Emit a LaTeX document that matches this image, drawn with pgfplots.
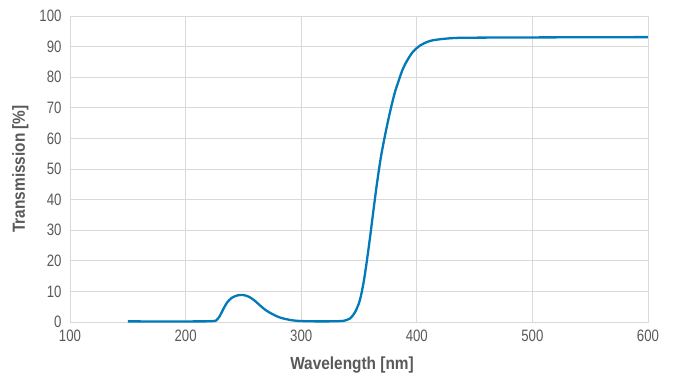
\documentclass[border=0pt]{standalone}
\usepackage{pgfplots}
\pgfplotsset{compat=1.18}
\usepackage{fontspec}
\setmainfont{Liberation Sans}[FakeStretch=0.8]
\newfontfamily\labfont{Liberation Sans}[FakeStretch=0.88]
\definecolor{curve}{RGB}{0,122,185}
\definecolor{gridc}{RGB}{217,217,217}
\definecolor{txt}{RGB}{89,89,89}
\begin{document}
\begin{tikzpicture}
\useasboundingbox (-70pt,-59pt) rectangle (603pt,322pt);
\begin{axis}[
  scale only axis, width=578pt, height=306pt,
  xmin=100, xmax=600, ymin=0, ymax=100,
  xtick={100,200,...,600}, ytick={0,10,...,100},
  grid=major, major grid style={gridc, line width=0.9pt},
  axis line style={gridc, line width=0.9pt},
  tick style={draw=none},
  tick label style={font=\fontsize{16.5}{18}\selectfont, text=txt},
  /pgf/number format/assume math mode=true,
  xticklabel style={yshift=-4pt},
  yticklabel style={xshift=-5pt},
  xlabel={\textbf{Wavelength [nm]}},
  ylabel={\textbf{Transmission [\%]}},
  label style={font=\labfont\fontsize{17.5}{19}\selectfont, text=txt},
  xlabel style={yshift=-9pt, xshift=-7pt},
  ylabel style={yshift=4pt},
]
\addplot[curve, line width=2.3pt, smooth, tension=0.6] coordinates {
(150,0.2)(210,0.2)(224,0.3)(227,0.7)(229,1.6)(231,3.0)(233,4.5)(236,6.4)(240,7.9)(245,8.7)(250,8.8)
(255,8.2)(260,6.9)(265,5.2)(270,3.7)(275,2.6)(280,1.7)(285,1.1)(290,0.7)(296,0.4)(305,0.25)
(320,0.2)(334,0.3)(339,0.6)(342,1.1)(345,2.3)(348,4.3)(351,7.5)(354,13)(357,20.5)(360,29)(363,38)
(366,46.5)(369,54)(372,60)(375,65.5)(378,70.5)(381,75)(384,78.5)(387,81.8)(390,84.3)(393,86.3)
(396,88)(399,89.2)(403,90.4)(407,91.2)(412,91.9)(418,92.3)(425,92.6)(435,92.85)(450,92.92)
(500,93.0)(600,93.1)
};
\end{axis}
\end{tikzpicture}
\end{document}
